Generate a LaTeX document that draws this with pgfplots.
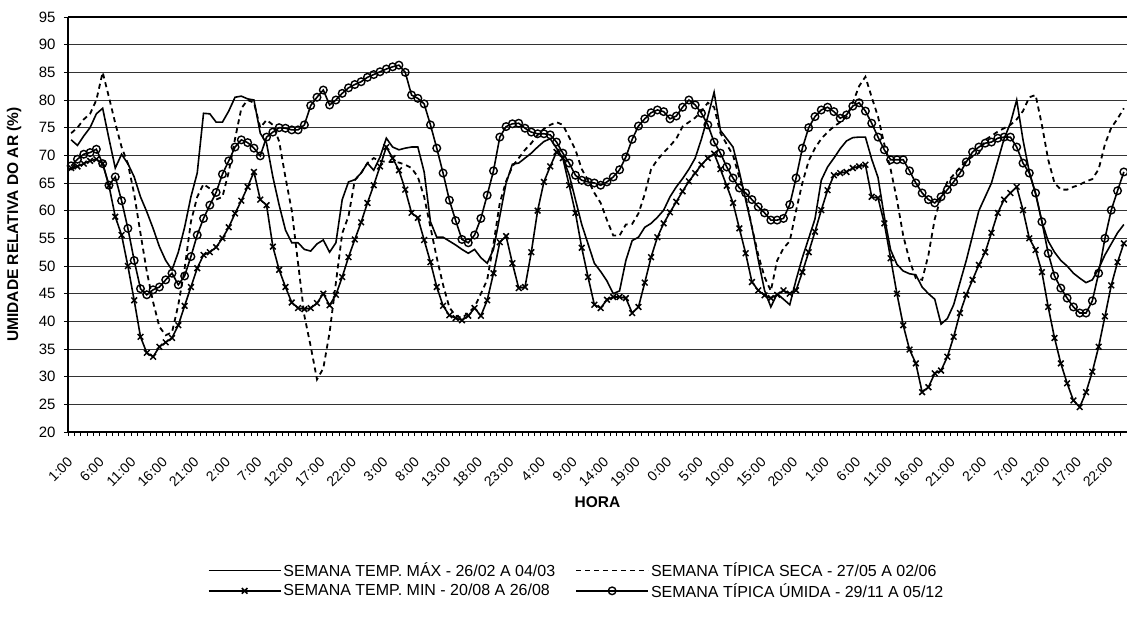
\documentclass[border=0pt]{standalone}
\usepackage{fontspec}
\setmainfont{Liberation Sans}
\usepackage{pgfplots}
\pgfplotsset{compat=1.18}
\usepackage{pgfplotstable}

% hourly relative humidity (%), k = hour index from 1:00 of day 1
% A = semana temp. max, B = tipica seca, C = temp. min, D = tipica umida
\pgfplotstableread{
k A B C D
0 72.8 74 67.7 68.1
1 71.8 75 68 69.3
2 73.5 76.5 68.5 70.2
3 75 77.5 69 70.5
4 77.5 80 69.3 71.1
5 78.5 85 68.5 68.5
6 73 80.5 64.5 64.6
7 67.7 75.8 58.9 66.1
8 70.2 71.5 55.6 61.8
9 68.5 68.5 50 56.8
10 66.1 63 43.8 51
11 62.5 55.9 37.2 45.9
12 59.8 49 34.3 44.8
13 56.8 43.5 33.6 45.7
14 53.5 39 35.4 46.2
15 51 37.5 36.2 47.5
16 49.3 38 37 48.7
17 52.5 43 39.3 46.6
18 57 49.5 42.8 48.2
19 62.5 58 46.2 51.7
20 66.8 62.5 49.6 55.6
21 77.6 64.8 52 58.6
22 77.5 64 52.5 61
23 76 62 53.4 63.3
24 76 62.5 55 66.6
25 78 67 57 69
26 80.5 73 59.5 71.5
27 80.7 78.5 61.8 72.8
28 80.2 80 64.3 72.3
29 80 79.5 67 71.3
30 74 75 62 69.9
31 72.2 76.4 61 73.3
32 66.1 75.5 53.5 74.2
33 61 72.5 49.3 75
34 56.5 66 46.2 74.9
35 54.2 60 43.4 74.6
36 54.2 50.5 42.4 74.6
37 53 41 42.2 75.5
38 52.7 35.5 42.4 79
39 54 29.5 43.3 80.5
40 54.7 31.5 45 81.8
41 52.5 38 42.9 79.1
42 54.2 47 44.8 80
43 62 55.9 48 81.2
44 65.2 59 51.6 82.2
45 65.6 65.5 54.8 82.8
46 66.8 66.8 57.9 83.3
47 68.6 68.6 61.4 84.1
48 67.3 69.5 64.6 84.6
49 69.7 69 68 85.1
50 73.1 68.8 71.5 85.6
51 71.5 68.8 69.5 86
52 71 68.7 67.3 86.3
53 71.3 68.3 63.8 85
54 71.5 67.7 59.6 80.9
55 71.5 66.1 58.7 80.3
56 67 62.5 54.7 79.3
57 58 57 50.7 75.5
58 55.2 51.5 46.2 71.3
59 55.2 46.6 42.8 66.8
60 54.5 42.5 41.1 61.9
61 53.8 41 40.6 58.2
62 53 40.6 40.2 54.8
63 52.3 41.5 41 54.2
64 53 42.6 42.4 55.6
65 51.5 45 41 58.6
66 50.5 47.5 43.8 62.8
67 53 54 48.7 67.2
68 59 61.4 54.3 73.3
69 65 65.3 55.4 75.2
70 68.4 68 50.5 75.7
71 68.6 69.5 46 75.8
72 69.5 71 46.2 74.9
73 70.4 72.2 52.5 74.2
74 71.5 73.7 60 73.9
75 72.5 74.8 65.2 73.9
76 73 75.5 68 73.7
77 71.3 76 70.6 72.4
78 69.5 75.5 69.5 70.4
79 66.5 73.3 64.6 68.6
80 62 71 59.6 66.4
81 57.5 67.5 53.3 65.5
82 54 65.5 48 65.2
83 50.5 63.2 43 65
84 49 61.4 42.4 64.6
85 47.3 58.3 43.9 65.2
86 45 55.5 44.4 66.1
87 45.5 55.5 44.4 67.4
88 51 57.5 44.2 69.7
89 54.6 57.6 41.5 72.9
90 55.2 59.5 42.6 75.3
91 57 63 47 76.6
92 57.7 67.5 51.6 77.7
93 58.8 69.2 55.2 78.2
94 60.1 70.5 57.7 77.9
95 62.5 71.7 59.7 76.6
96 64.3 73 61.6 77.1
97 65.8 75.2 63.5 78.7
98 67.5 76 65.3 80
99 69.5 76.8 66.8 79.1
100 73 78 68.3 77.6
101 77 79.5 69.5 75.5
102 81.4 78.7 70.3 72.4
103 74.5 74 67.5 70.4
104 73 72 64.5 67.9
105 71.5 70 61.4 65.9
106 67 66 56.8 64.1
107 62 62.5 52.3 63.2
108 57 57 47.1 62
109 51.1 52 45.6 60.7
110 45.6 48 44.7 59.6
111 42.6 45.5 44.2 58.3
112 45 51 44.8 58.3
113 44 53.2 45.6 58.6
114 43 54.5 45 61.1
115 47.5 60 45.6 65.9
116 51.5 65 48.9 71.3
117 55 69 52.5 75
118 58.5 71.3 56.2 77
119 65.5 73 60.1 78.2
120 67.9 74.2 63.7 78.7
121 69.5 75.2 66.4 77.9
122 71.2 76 66.8 76.7
123 72.6 77 67 77.3
124 73.2 79.5 67.7 78.9
125 73.3 82.5 68 79.5
126 73.3 84.2 68.3 78
127 69.3 80.5 62.5 75.8
128 66 77 62.3 73.3
129 58.9 72 57.7 71
130 52.9 67.5 51.4 69.2
131 50.3 62 45 69.2
132 49.1 55.5 39.3 69.2
133 48.6 51 34.9 67.2
134 48.4 47.8 32.4 65
135 46.2 47.5 27.2 63.2
136 45 52 28.1 62
137 44 58.5 30.6 61.4
138 39.5 62.5 31.1 62.5
139 40.5 65.2 33.6 63.8
140 43 66.5 37.2 65.2
141 47 67.8 41.5 66.8
142 51 69 44.8 68.8
143 55.5 69.8 47.5 70.6
144 60 70.4 50.2 71.5
145 62.5 72.8 52.5 72.2
146 65 73.5 56 72.4
147 69 74.3 59.6 73.1
148 73 74.9 62 73.3
149 75.8 75.5 63.2 73.3
150 80 76.5 64.3 71.5
151 72.8 78 60.1 68.6
152 67 80.5 55 66.8
153 63 80.9 52.9 63.2
154 58 75.5 48.9 58
155 54.5 69.2 42.6 52.3
156 52.5 65 37 48.2
157 51 63.8 32.4 46
158 50 63.8 28.8 44.2
159 48.7 64.3 25.7 42.6
160 47.8 64.7 24.5 41.5
161 47 65.3 27.2 41.5
162 47.5 65.7 30.9 43.7
163 49.5 67.5 35.4 48.7
164 52 72 40.9 55
165 54 75 46.5 60.1
166 56 76.6 50.7 63.6
167 57.5 78.5 54.1 67
}\umidade

\begin{document}
\begin{tikzpicture}
\begin{axis}[
  at={(0pt,0pt)}, anchor=south west,
  scale only axis, width=1059pt, height=415pt,
  xmin=-0.5, xmax=167.5, ymin=20, ymax=95,
  axis x line*=bottom, axis y line*=left,
  axis line style={line width=1.6pt},
  ytick={20,25,...,95},
  ymajorgrids, grid style={black!80, line width=0.7pt},
  extra y ticks={95}, extra y tick labels={},
  extra y tick style={grid style={black, line width=1.6pt}},
  xtick={0,5,...,165},
  minor xtick={-0.5,0.5,...,167.5},
  xticklabel={\pgfmathtruncatemacro\hr{mod(round(\tick)+1,24)}\hr:00},
  tick align=outside, major tick length=4pt, minor tick length=4pt,
  major x tick style={draw=none},
  tick style={black, line width=0.6pt},
  /pgf/number format/assume math mode=true,
  yticklabel style={font=\fontsize{15pt}{17pt}\selectfont, xshift=-5pt},
  xticklabel style={font=\fontsize{14pt}{16pt}\selectfont, rotate=45, anchor=east, xshift=-14pt, yshift=-16pt},
  xlabel={HORA}, ylabel={UMIDADE RELATIVA DO AR (\%)},
  label style={font=\bfseries\fontsize{15.5pt}{18pt}\selectfont},
  xlabel style={at={(axis description cs:0.5,-0.169)}, anchor=center},
  ylabel style={at={(axis description cs:-0.051,0.5)}, anchor=center},
  legend columns=2,
  legend cell align=left,
  legend style={at={(axis description cs:0.129,-0.305)}, anchor=north west, draw=none,
    font=\fontsize{16pt}{18pt}\selectfont, row sep=1pt,
    /tikz/every even column/.append style={column sep=18pt}},
  legend image code/.code={\draw[mark repeat=2,mark phase=2,#1] plot coordinates {(0pt,0pt) (36pt,0pt) (72pt,0pt)};},
]
\addplot[black, line width=1.6pt] table[x=k, y=A] {\umidade};
\addlegendentry{SEMANA TEMP. MÁX - 26/02 A 04/03}
\addplot[black, line width=1.8pt, dash pattern=on 5pt off 4pt] table[x=k, y=B] {\umidade};
\addlegendentry{SEMANA TÍPICA SECA - 27/05 A 02/06}
\addplot[black, line width=1.6pt, mark=x, mark size=4pt, mark options={solid, line width=1.5pt}] table[x=k, y=C] {\umidade};
\addlegendentry{SEMANA TEMP. MIN - 20/08 A 26/08}
\addplot[black, line width=1.6pt, mark=o, mark size=3.8pt, mark options={solid, line width=1.4pt}] table[x=k, y=D] {\umidade};
\addlegendentry{SEMANA TÍPICA ÚMIDA - 29/11 A 05/12}
\end{axis}
\pgfresetboundingbox
\path (-68pt,-193pt) rectangle (1059pt,432pt);
\end{tikzpicture}
\end{document}
